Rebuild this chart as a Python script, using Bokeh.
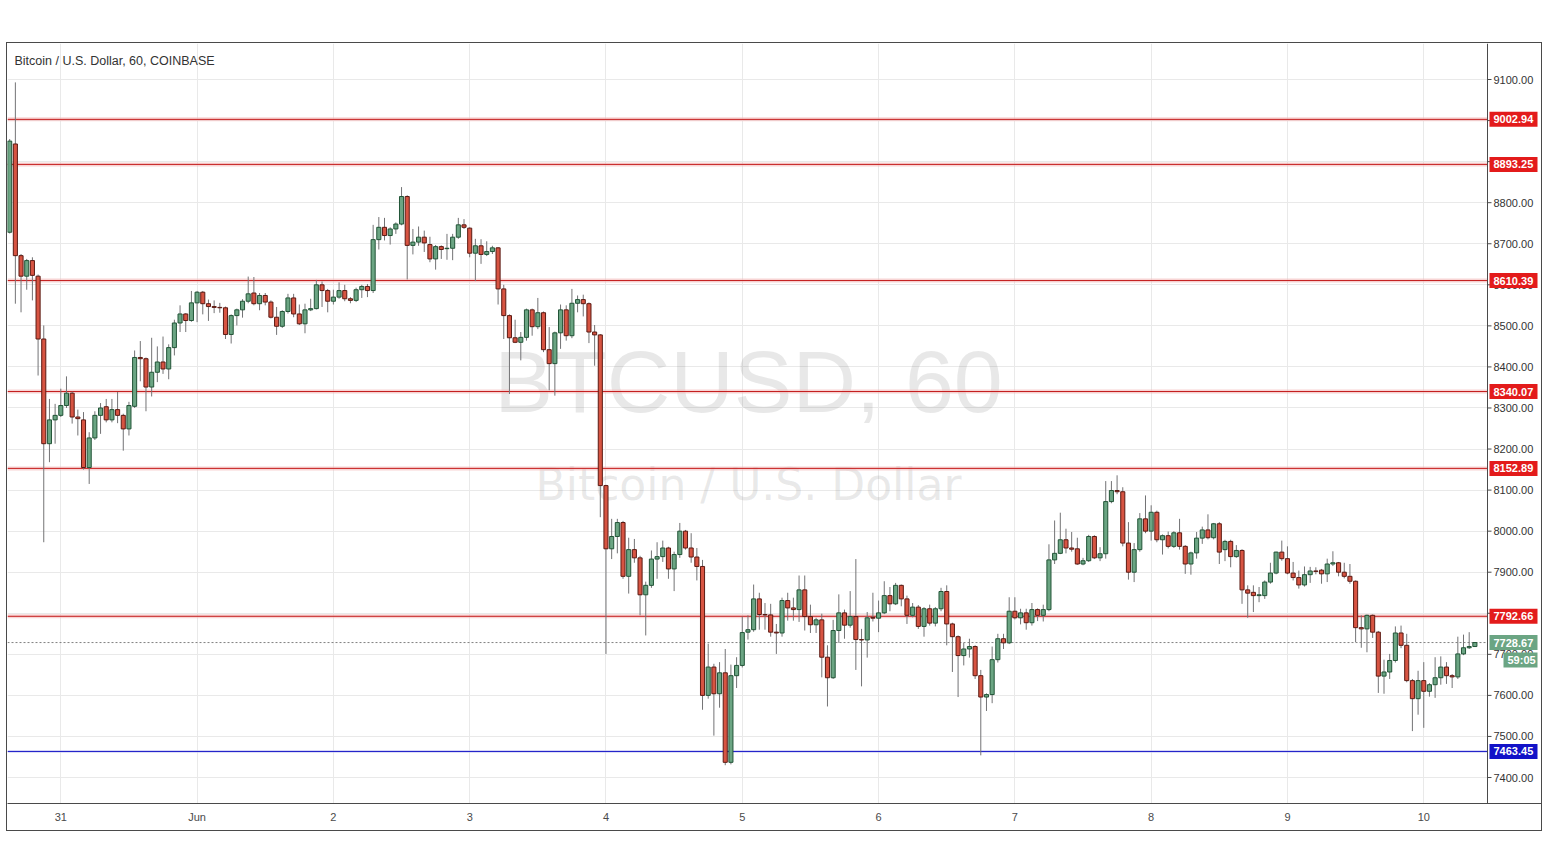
from bokeh.plotting import figure
from bokeh.models import (FixedTicker, SingleIntervalTicker, Span, Label, BoxAnnotation,
                          ColumnDataSource, Range1d, Spacer)
from bokeh.layouts import column, row
from bokeh.core.properties import value
from bokeh.embed import file_html
from bokeh.resources import INLINE

# hours since 31 May 00:00 (first candle 30 May 15:00, last 10 Jun 09:00)
hours = list(range(-9, 250))

opens = [
    8728, 8943, 8671, 8621, 8659, 8621, 8468, 8213, 8271,
    8282, 8306, 8336, 8278, 8271, 8155, 8227, 8282, 8303, 8271, 8296, 8282, 8249, 8304, 8423, 8420, 8351, 8387, 8412, 8395, 8447, 8507, 8529, 8513,
    8556, 8582, 8554, 8547, 8545, 8544, 8479, 8525, 8539, 8560, 8580, 8554, 8574, 8558, 8521, 8499, 8535, 8568, 8529, 8505, 8539, 8542, 8600, 8586,
    8560, 8570, 8586, 8566, 8562, 8588, 8596, 8586, 8710, 8740, 8720, 8736, 8748, 8815, 8696, 8704, 8716, 8698, 8663, 8693, 8688, 8689, 8716, 8746,
    8738, 8677, 8695, 8674, 8681, 8690, 8590, 8525, 8471, 8460, 8472, 8539, 8498, 8532, 8442, 8408, 8483, 8539, 8476, 8555, 8564, 8554, 8485, 8478,
    8111, 7957, 7987, 8021, 7890, 7955, 7935, 7845, 7868, 7932, 7938, 7959, 7908, 7943, 8000, 7959, 7937, 7914, 7600, 7669, 7604, 7655, 7437, 7648,
    7673, 7754, 7760, 7835, 7797, 7796, 7754, 7752, 7831, 7813, 7809, 7857, 7792, 7772, 7784, 7693, 7643, 7758, 7801, 7771, 7792, 7736, 7735, 7790,
    7788, 7801, 7843, 7823, 7868, 7835, 7795, 7815, 7768, 7811, 7776, 7811, 7853, 7774, 7743, 7697, 7713, 7719, 7648, 7596, 7602, 7687, 7738, 7728,
    7805, 7789, 7801, 7777, 7809, 7795, 7809, 7930, 7946, 7979, 7959, 7957, 7920, 7928, 7987, 7935, 7945, 8072, 8099, 8096, 7971, 7900, 7955, 8030,
    8000, 8046, 7979, 7989, 7963, 7996, 7963, 7920, 7947, 7983, 8003, 7984, 8018, 7955, 7975, 7938, 7953, 7857, 7851, 7843, 7843, 7876, 7898, 7949,
    7933, 7898, 7887, 7869, 7894, 7903, 7905, 7896, 7920, 7923, 7900, 7890, 7878, 7765, 7762, 7795, 7754, 7647, 7657, 7685, 7752, 7722, 7636, 7592,
    7636, 7610, 7626, 7643, 7669, 7648, 7645, 7701, 7716, 7719,
]
highs = [
    8955, 9093, 8675, 8663, 8667, 8625, 8501, 8322, 8310,
    8347, 8377, 8340, 8296, 8290, 8241, 8292, 8312, 8322, 8322, 8339, 8286, 8315, 8440, 8463, 8423, 8471, 8450, 8474, 8455, 8515, 8550, 8531, 8585,
    8585, 8585, 8564, 8562, 8556, 8547, 8528, 8542, 8565, 8620, 8619, 8580, 8580, 8562, 8546, 8538, 8578, 8578, 8552, 8554, 8566, 8612, 8608, 8590,
    8588, 8606, 8600, 8570, 8593, 8600, 8602, 8746, 8765, 8763, 8740, 8752, 8838, 8818, 8736, 8742, 8732, 8717, 8697, 8696, 8724, 8724, 8763, 8760,
    8740, 8712, 8711, 8706, 8695, 8692, 8600, 8528, 8515, 8485, 8542, 8542, 8568, 8535, 8497, 8486, 8552, 8550, 8590, 8574, 8576, 8557, 8502, 8480,
    8113, 8030, 8030, 8025, 7984, 7981, 7940, 7877, 7953, 7973, 7977, 7962, 7950, 8020, 8003, 7995, 7959, 7930, 7726, 7677, 7681, 7713, 7675, 7693,
    7792, 7795, 7870, 7850, 7825, 7823, 7774, 7838, 7850, 7838, 7892, 7892, 7821, 7789, 7799, 7722, 7784, 7846, 7809, 7854, 7932, 7762, 7803, 7850,
    7831, 7878, 7864, 7874, 7870, 7843, 7825, 7820, 7815, 7821, 7815, 7862, 7868, 7777, 7746, 7728, 7738, 7722, 7662, 7605, 7719, 7750, 7750, 7839,
    7839, 7811, 7811, 7825, 7812, 7821, 7968, 8026, 8045, 8006, 7998, 7984, 7935, 7991, 7990, 7961, 8122, 8122, 8136, 8107, 8022, 7971, 8044, 8087,
    8063, 8050, 7992, 7999, 8000, 8030, 7966, 7950, 7998, 8011, 8041, 8020, 8022, 7979, 7979, 7966, 7956, 7868, 7868, 7864, 7880, 7923, 7950, 7977,
    7963, 7925, 7904, 7914, 7913, 7912, 7908, 7933, 7951, 7925, 7923, 7920, 7880, 7795, 7797, 7797, 7757, 7687, 7701, 7768, 7770, 7750, 7640, 7660,
    7681, 7630, 7693, 7695, 7681, 7652, 7743, 7748, 7754, 7730,
]
lows = [
    8725, 8554, 8533, 8588, 8562, 8379, 7973, 8168, 8213,
    8278, 8300, 8262, 8233, 8150, 8115, 8222, 8237, 8265, 8265, 8263, 8196, 8233, 8300, 8365, 8292, 8328, 8363, 8383, 8370, 8428, 8485, 8485, 8510,
    8509, 8528, 8512, 8531, 8532, 8468, 8457, 8501, 8520, 8555, 8550, 8538, 8550, 8518, 8478, 8495, 8530, 8521, 8502, 8482, 8536, 8540, 8546, 8533,
    8552, 8566, 8560, 8555, 8558, 8568, 8570, 8580, 8686, 8708, 8698, 8724, 8745, 8613, 8674, 8695, 8680, 8655, 8637, 8663, 8661, 8660, 8712, 8736,
    8667, 8609, 8651, 8670, 8675, 8552, 8468, 8334, 8458, 8416, 8464, 8476, 8492, 8436, 8343, 8330, 8444, 8464, 8470, 8533, 8523, 8458, 8403, 8034,
    7701, 7932, 7946, 7884, 7848, 7923, 7795, 7746, 7862, 7884, 7925, 7884, 7854, 7935, 7955, 7923, 7880, 7565, 7592, 7502, 7570, 7430, 7432, 7618,
    7668, 7736, 7755, 7760, 7760, 7743, 7701, 7743, 7782, 7782, 7779, 7758, 7752, 7752, 7644, 7573, 7640, 7728, 7738, 7765, 7662, 7622, 7692, 7780,
    7754, 7798, 7805, 7820, 7817, 7774, 7790, 7762, 7743, 7770, 7768, 7805, 7722, 7657, 7596, 7673, 7692, 7640, 7454, 7562, 7581, 7680, 7713, 7725,
    7785, 7773, 7760, 7770, 7781, 7780, 7805, 7920, 7944, 7946, 7950, 7918, 7917, 7925, 7932, 7927, 7933, 8068, 8090, 7963, 7882, 7876, 7950, 7995,
    7977, 7973, 7943, 7958, 7959, 7955, 7896, 7894, 7933, 7969, 7980, 7980, 7920, 7927, 7912, 7935, 7823, 7789, 7803, 7827, 7835, 7872, 7895, 7928,
    7895, 7880, 7860, 7865, 7874, 7895, 7872, 7876, 7915, 7890, 7885, 7872, 7730, 7716, 7705, 7740, 7606, 7604, 7640, 7680, 7715, 7632, 7513, 7553,
    7521, 7597, 7594, 7626, 7628, 7618, 7640, 7698, 7713, 7718,
]
closes = [
    8950, 8671, 8621, 8659, 8623, 8468, 8213, 8271, 8282,
    8306, 8336, 8278, 8274, 8155, 8227, 8282, 8300, 8271, 8296, 8282, 8249, 8306, 8423, 8420, 8351, 8387, 8412, 8395, 8447, 8507, 8529, 8513, 8556,
    8582, 8554, 8547, 8545, 8544, 8479, 8525, 8539, 8560, 8578, 8554, 8574, 8558, 8521, 8499, 8535, 8568, 8529, 8505, 8539, 8542, 8600, 8586, 8560,
    8570, 8586, 8566, 8562, 8588, 8596, 8586, 8710, 8740, 8720, 8736, 8748, 8815, 8696, 8704, 8716, 8702, 8663, 8693, 8686, 8689, 8716, 8746, 8740,
    8677, 8695, 8674, 8681, 8690, 8590, 8525, 8471, 8460, 8472, 8539, 8498, 8532, 8442, 8408, 8483, 8539, 8476, 8555, 8564, 8554, 8485, 8478, 8111,
    7957, 7987, 8021, 7890, 7955, 7935, 7845, 7868, 7932, 7938, 7959, 7908, 7943, 8000, 7959, 7937, 7914, 7600, 7669, 7604, 7655, 7437, 7648, 7673,
    7753, 7760, 7835, 7797, 7796, 7754, 7752, 7831, 7813, 7809, 7857, 7792, 7772, 7784, 7693, 7643, 7758, 7801, 7771, 7792, 7736, 7735, 7789, 7788,
    7801, 7843, 7823, 7868, 7835, 7795, 7815, 7768, 7811, 7776, 7811, 7853, 7774, 7743, 7697, 7713, 7719, 7648, 7596, 7602, 7687, 7738, 7728, 7805,
    7789, 7801, 7777, 7809, 7795, 7809, 7930, 7946, 7979, 7959, 7956, 7920, 7928, 7987, 7935, 7945, 8072, 8099, 8096, 7971, 7900, 7955, 8030, 8000,
    8046, 7979, 7989, 7963, 7996, 7963, 7920, 7947, 7983, 8003, 7984, 8018, 7949, 7975, 7938, 7953, 7857, 7849, 7843, 7845, 7876, 7898, 7949, 7933,
    7898, 7887, 7869, 7894, 7903, 7902, 7896, 7920, 7923, 7900, 7890, 7878, 7765, 7762, 7795, 7754, 7647, 7657, 7685, 7752, 7722, 7636, 7592, 7636,
    7610, 7626, 7643, 7669, 7648, 7645, 7701, 7716, 7719, 7728.67,
]

red_levels = [9002.94, 8893.25, 8610.39, 8340.07, 8152.89, 7792.66]
blue_level = 7463.45
last_price = 7728.67
countdown = "59:05"
price_ticks = [7400, 7500, 7600, 7700, 7800, 7900, 8000, 8100, 8200, 8300,
               8400, 8500, 8600, 8700, 8800, 8900, 9000, 9100]
price_tick_labels = [f"{t:.2f}" for t in price_ticks]
day_ticks = [0, 24, 48, 72, 96, 120, 144, 168, 192, 216, 240]
day_labels = ["31", "Jun", "2", "3", "4", "5", "6", "7", "8", "9", "10"]
title_text = "Bitcoin / U.S. Dollar, 60, COINBASE"
wm_big = "BTCUSD, 60"
wm_small = "Bitcoin / U.S. Dollar"

n = min(len(hours), len(opens), len(highs), len(lows), len(closes))
UP_FILL, UP_LINE = "#6ba583", "#225437"
DN_FILL, DN_LINE = "#d75442", "#5b1a13"
src = dict(x=[], top=[], bottom=[], hi=[], lo=[], fill=[], line=[])
for i in range(n):
    o, c = opens[i], closes[i]
    up = c >= o
    src["x"].append(hours[i])
    src["top"].append(max(o, c))
    src["bottom"].append(min(o, c))
    src["hi"].append(max(highs[i], o, c))
    src["lo"].append(min(lows[i], o, c))
    src["fill"].append(UP_FILL if up else DN_FILL)
    src["line"].append(UP_LINE if up else DN_LINE)
source = ColumnDataSource(src)

PXH = 5.679                      # pixels per hour
X0 = -9.385                      # left edge of the pane
X1 = X0 + 1480 / PXH             # pane / price-scale separator
X2 = X0 + 1536 / PXH             # right edge of the price scale
Y0, Y1 = 7336.7, 9187.7
FONT = "Liberation Sans"

p = figure(width=1536, height=789, x_range=Range1d(X0, X2), y_range=Range1d(Y0, Y1),
           output_backend="svg", toolbar_location=None, y_axis_location=None,
           min_border_left=0, min_border_right=0, min_border_top=0, min_border_bottom=29)
p.outline_line_color = None
p.background_fill_color = "white"
p.border_fill_color = "white"
p.styles = {"border": "1px solid #4a4a4a"}

# time axis
p.xaxis.ticker = FixedTicker(ticks=day_ticks)
p.xaxis.major_label_overrides = {t: l for t, l in zip(day_ticks, day_labels)}
p.xaxis.axis_line_color = "#4a4a4a"
p.xaxis.major_tick_line_color = None
p.xaxis.major_tick_out = 0
p.xaxis.major_tick_in = 0
p.xaxis.minor_tick_line_color = None
p.xaxis.major_label_text_font = FONT
p.xaxis.major_label_text_font_size = "11px"
p.xaxis.major_label_text_color = "#4a4a4a"
p.xaxis.major_label_standoff = 7

p.xgrid.ticker = FixedTicker(ticks=day_ticks)
p.xgrid.grid_line_color = "#e9e9e9"
p.ygrid.ticker = SingleIntervalTicker(interval=100)
p.ygrid.grid_line_color = "#e9e9e9"

# watermark
p.add_layout(Label(x=121.1, y=8364, text=wm_big, text_align="center", text_baseline="middle",
                   text_font=FONT, text_font_size="88px", text_color="#787878", text_alpha=0.17,
                   level="underlay"))
p.add_layout(Label(x=121.1, y=8114, text=wm_small, text_align="center", text_baseline="middle",
                   text_font="DejaVu Sans", text_font_size="44px", text_color="#787878", text_alpha=0.17,
                   level="underlay"))

# level lines
for lev in red_levels:
    p.add_layout(Span(location=lev, dimension="width", line_color="#f3b9b9", line_width=4,
                      line_alpha=0.6, level="underlay"))
    p.add_layout(Span(location=lev, dimension="width", line_color="#c41d1d", line_width=1,
                      level="underlay"))
p.add_layout(Span(location=blue_level, dimension="width", line_color="#c9c9f2", line_width=3,
                  line_alpha=0.6, level="underlay"))
p.add_layout(Span(location=blue_level, dimension="width", line_color="#1c1cc8", line_width=1,
                  level="underlay"))
p.add_layout(Span(location=last_price, dimension="width", line_color="#808080", line_width=1,
                  line_dash="2 2", level="underlay"))

# price-scale column (white background over grid/lines, separator line)
p.add_layout(BoxAnnotation(left=X1, fill_color="white", fill_alpha=1.0, line_color=None,
                           level="underlay"))
p.add_layout(Span(location=X1, dimension="height", line_color="#4a4a4a", line_width=1))

# candles
p.segment(x0="x", y0="lo", x1="x", y1="hi", source=source, line_color="#737375", line_width=1)
p.vbar(x="x", width=0.72, top="top", bottom="bottom", source=source,
       fill_color="fill", line_color="line", line_width=1)

# price scale labels and tick marks
p.segment(x0=[X1] * len(price_ticks), y0=price_ticks, x1=[X1 + 4 / PXH] * len(price_ticks),
          y1=price_ticks, line_color="#4a4a4a", line_width=1)
p.text(x=[X1] * len(price_ticks), y=price_ticks, text=price_tick_labels, x_offset=6,
       text_align="left", text_baseline="middle", text_font=value(FONT),
       text_font_size="11px", text_color="#333333")

# coloured price boxes
box_vals = red_levels + [blue_level, last_price]
box_cols = ["#e31b1b"] * len(red_levels) + ["#1212c8", "#6ba583"]
box_txt = [f"{v:.2f}" for v in box_vals]
p.rect(x=[X1 + 26 / PXH] * len(box_vals), y=box_vals, width=48, height=15,
       width_units="screen", height_units="screen", fill_color=box_cols, line_color=None)
p.text(x=[X1] * len(box_vals), y=box_vals, text=box_txt, x_offset=6,
       text_align="left", text_baseline="middle", text_font=value(FONT),
       text_font_size="11px", text_font_style="bold", text_color="white")
cd_y = 7686.5
p.rect(x=[X1 + 33 / PXH], y=[cd_y], width=34, height=15, width_units="screen",
       height_units="screen", fill_color="#6ba583", line_color=None)
p.text(x=[X1], y=[cd_y], text=[countdown], x_offset=20, text_align="left",
       text_baseline="middle", text_font=value(FONT), text_font_size="11px",
       text_font_style="bold", text_color="white")

# title
p.add_layout(Label(x=X0, y=9146, x_offset=7, text=title_text, text_align="left",
                   text_baseline="middle", text_font=FONT, text_font_size="12.5px",
                   text_color="#333333"))

layout = column(Spacer(width=1540, height=42), row(Spacer(width=6, height=791), p))
open("out.html", "w").write(file_html(layout, INLINE))
